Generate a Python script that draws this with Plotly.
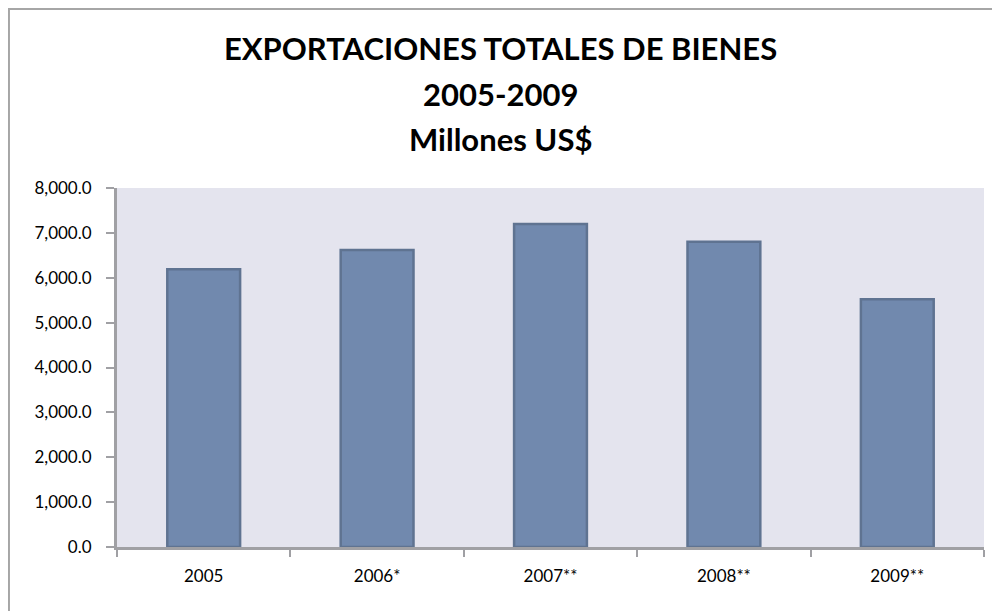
import plotly.graph_objects as go

categories = ["2005", "2006*", "2007**", "2008**", "2009**"]
values = [6190.0, 6620.0, 7195.0, 6800.0, 5520.0]
y_ticks = [0, 1000, 2000, 3000, 4000, 5000, 6000, 7000, 8000]
y_tick_labels = ["0.0", "1,000.0", "2,000.0", "3,000.0", "4,000.0", "5,000.0", "6,000.0", "7,000.0", "8,000.0"]
title_lines = ["EXPORTACIONES TOTALES DE BIENES", "2005-2009", "Millones US$"]

# page body has an 8px margin; compensate so the chart lands at screen coords
OFF = 8
W, H = 1000 - OFF, 611 - OFF
# desired plot-area edges in screen pixels
sl, sr, st, sb = 117, 983.7, 188, 546.7
ml = sl - OFF
mt = st - OFF
mr = W - (sr - OFF)
mb = H - (sb - OFF)
pw, ph = W - ml - mr, H - mt - mb

def px_x(p):  # screen px -> paper x
    return (p - sl) / pw

def px_y(p):  # screen px -> paper y
    return (sb - p) / ph

fig = go.Figure(go.Bar(
    x=categories, y=values, width=0.42,
    marker=dict(color="#7189AE", line=dict(color="#5F7391", width=2.5)),
))

fig.update_layout(
    width=W, height=H,
    margin=dict(l=ml, r=mr, t=mt, b=mb),
    paper_bgcolor="white", plot_bgcolor="#E4E4EE",
    showlegend=False,
    font=dict(family="Lato, Liberation Sans, sans-serif", size=17, color="black"),
)
for line, sy in zip(title_lines, [48, 94, 139]):
    fig.add_annotation(
        text=line, xref="paper", yref="paper", x=px_x(500), y=px_y(sy),
        xanchor="center", yanchor="middle", showarrow=False,
        font=dict(family="Lato, Open Sans, sans-serif", size=31, color="black", weight="bold"),
    )
fig.update_xaxes(
    showline=True, linecolor="#A0A0A4", linewidth=3,
    ticks="outside", tickson="boundaries", ticklen=7, tickwidth=2, tickcolor="#A0A0A4",
    showgrid=False, tickfont=dict(size=17), ticklabelstandoff=12,
)
fig.update_yaxes(
    range=[0, 8000], tickvals=y_ticks, ticktext=y_tick_labels,
    showline=True, linecolor="#A0A0A4", linewidth=3,
    ticks="outside", ticklen=8, tickwidth=2, tickcolor="#A0A0A4",
    showgrid=False, zeroline=False, tickfont=dict(size=17), ticklabelstandoff=11,
)
fig.add_shape(
    type="rect", xref="paper", yref="paper",
    x0=px_x(9), x1=px_x(1010), y0=px_y(625), y1=px_y(9.2),
    line=dict(color="#A6A6A6", width=2), fillcolor="rgba(0,0,0,0)", layer="below",
)

fig.write_html("out.html")
